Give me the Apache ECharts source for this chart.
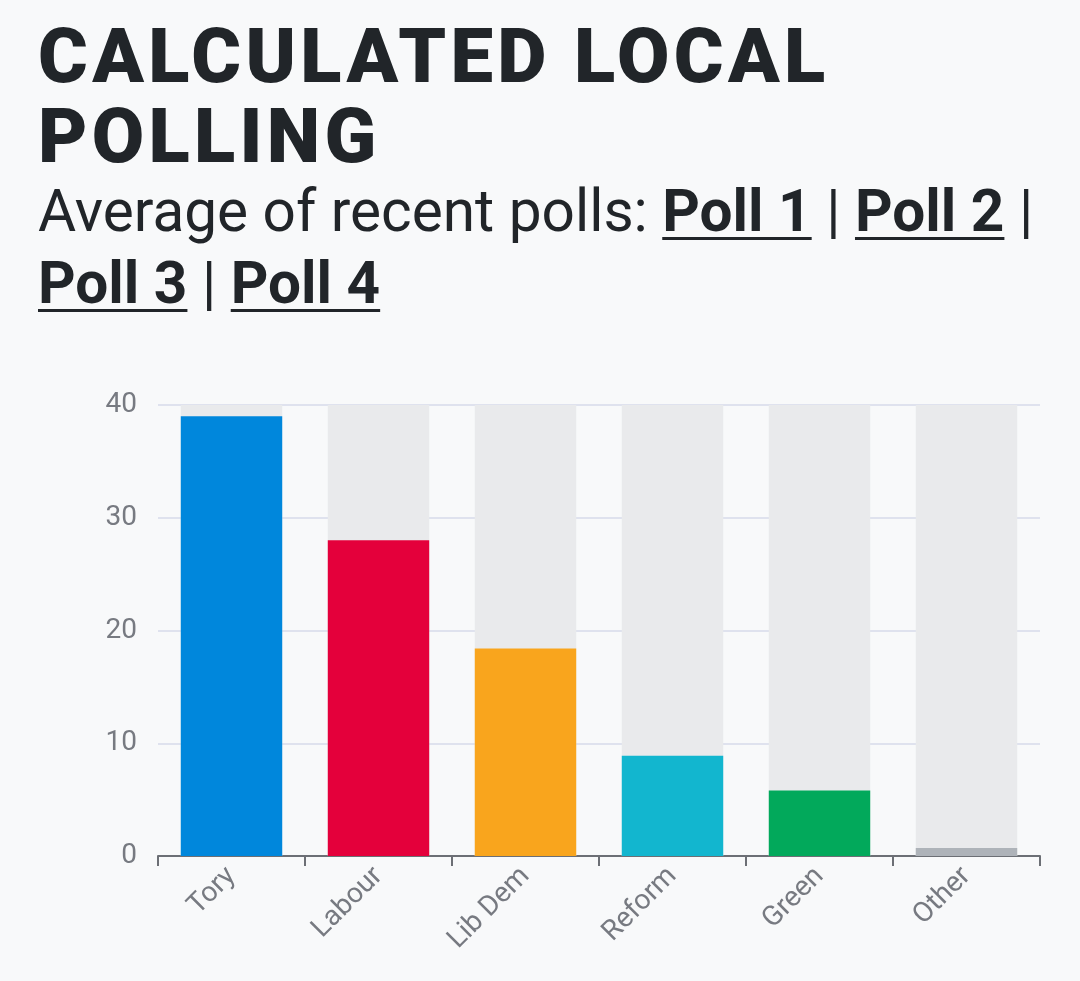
<!DOCTYPE html>
<html>
<head>
<meta charset="utf-8">
<script src="https://cdn.jsdelivr.net/npm/echarts@6/dist/echarts.min.js"></script>
<style>
  html, body { margin:0; padding:0; background:#f8f9fa; }
  #chart { position:absolute; left:0; top:0; width:1080px; height:981px; }
  #head { position:absolute; left:38px; top:0; width:1030px; color:#212529; font-family: Roboto, "Noto Sans", sans-serif; z-index:2; }
  #head h1 { margin:0; padding-top:16px; font-weight:900; font-size:76px; line-height:80px; letter-spacing:4.3px; }
  #head p { margin:0; margin-top:-1px; font-size:58.5px; line-height:72px; font-weight:400; }
  #head a { color:#212529; font-weight:700; text-decoration:underline; text-decoration-thickness:3px; text-underline-offset:6px; }
</style>
</head>
<body>
<div id="chart"></div>
<div id="head">
  <h1>CALCULATED LOCAL POLLING</h1>
  <p>Average of recent polls: <a>Poll 1</a> | <a>Poll 2</a> | <a>Poll 3</a> | <a>Poll 4</a></p>
</div>
<script>
const categories = ['Tory', 'Labour', 'Lib Dem', 'Reform', 'Green', 'Other'];
const values = [39, 28, 18.4, 8.9, 5.8, 0.7];
const colors = ['#0087dc', '#e4003b', '#f9a51d', '#12b6cf', '#02a95b', '#aeb3b9'];
const yTicks = [0, 10, 20, 30, 40];

const chart = echarts.init(document.getElementById('chart'), null, { renderer: 'canvas' });
chart.setOption({
  backgroundColor: '#f8f9fa',
  animation: false,
  grid: { left: 158, right: 40, top: 405, bottom: 125, containLabel: false },
  xAxis: {
    type: 'category',
    data: categories,
    axisLine: { show: true, lineStyle: { color: '#6c6f75', width: 2 } },
    axisTick: { show: true, alignWithLabel: false, length: 10, lineStyle: { color: '#6c6f75', width: 2 } },
    axisLabel: { rotate: 45, color: '#777a81', fontSize: 28, fontFamily: 'Roboto', margin: 16 }
  },
  yAxis: {
    type: 'value',
    min: yTicks[0],
    max: yTicks[yTicks.length - 1],
    interval: 10,
    axisLine: { show: false },
    axisTick: { show: false },
    axisLabel: { color: '#777a81', fontSize: 28, fontFamily: 'Roboto', margin: 21 },
    splitLine: { lineStyle: { color: '#dfe2ee', width: 2 } }
  },
  series: [{
    type: 'bar',
    barWidth: '69%',
    showBackground: true,
    backgroundStyle: { color: '#e9eaec' },
    data: values.map((v, i) => ({ value: v, itemStyle: { color: colors[i] } }))
  }]
});
</script>
</body>
</html>
